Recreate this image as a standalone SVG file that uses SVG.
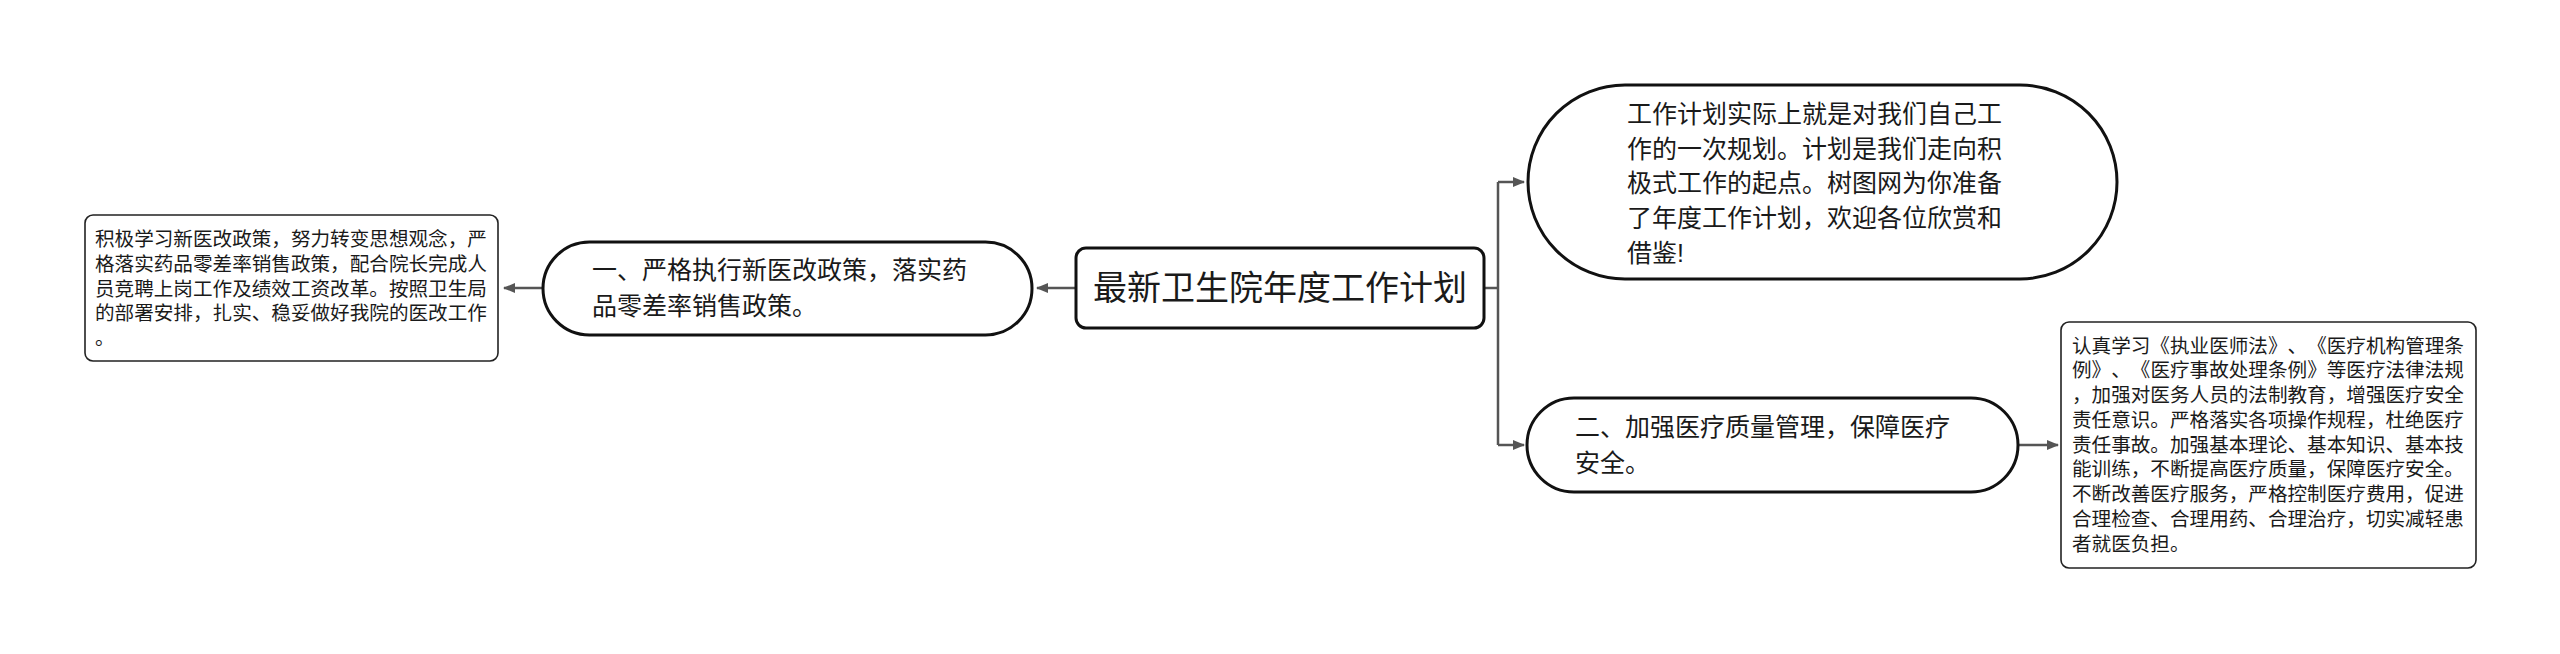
<svg xmlns="http://www.w3.org/2000/svg" width="2560" height="654" viewBox="0 0 2560 654">
<style>
text{font-family:"Liberation Sans","Noto Sans CJK SC",sans-serif;fill:#1a1a1a;text-spacing-trim:space-all}
.main{fill:#fff;stroke:#111;stroke-width:3}
.leaf{fill:#fff;stroke:#222;stroke-width:1.6}
.t25{font-size:25px}
.t20{font-size:19.6px}
.conn{fill:none;stroke:#555;stroke-width:2.5}
</style>
<defs>
<marker id="ah" markerWidth="12" markerHeight="10" refX="11" refY="5" orient="auto" markerUnits="userSpaceOnUse">
<path d="M0,0 L12,5 L0,10 Z" fill="#555"/>
</marker>
</defs>
<rect width="2560" height="654" fill="#fff"/>
<g id="connectors">
<path class="conn" d="M1076,288 L1037,288" marker-end="url(#ah)"/>
<path class="conn" d="M543,288 L504,288" marker-end="url(#ah)"/>
<path class="conn" d="M1484,288 L1498,288"/>
<path class="conn" d="M1498,182 L1498,445"/>
<path class="conn" d="M1498,182 L1524,182" marker-end="url(#ah)"/>
<path class="conn" d="M1498,445 L1524,445" marker-end="url(#ah)"/>
<path class="conn" d="M2018,445 L2058,445" marker-end="url(#ah)"/>
</g>
<g id="root">
<rect class="main" x="1076" y="248" width="408" height="80" rx="10"/>
<text x="1280" y="300" font-size="34" text-anchor="middle">最新卫生院年度工作计划</text>
</g>
<g id="node1">
<rect class="main" x="543" y="242" width="489" height="93" rx="46.5"/>
<text class="t25"><tspan x="592" y="279">一、严格执行新医改政策，落实药</tspan><tspan x="592" y="315">品零差率销售政策。</tspan></text>
</g>
<g id="leaf1">
<rect class="leaf" x="85" y="215" width="413" height="146" rx="8"/>
<text class="t20"><tspan x="95" y="246">积极学习新医改政策，努力转变思想观念，严</tspan><tspan x="95" y="270.7">格落实药品零差率销售政策，配合院长完成人</tspan><tspan x="95" y="295.5">员竞聘上岗工作及绩效工资改革。按照卫生局</tspan><tspan x="95" y="320.2">的部署安排，扎实、稳妥做好我院的医改工作</tspan><tspan x="95" y="345">。</tspan></text>
</g>
<g id="node-top">
<rect class="main" x="1528" y="85" width="589" height="194" rx="97"/>
<text class="t25"><tspan x="1627" y="123">工作计划实际上就是对我们自己工</tspan><tspan x="1627" y="157.7">作的一次规划。计划是我们走向积</tspan><tspan x="1627" y="192.4">极式工作的起点。树图网为你准备</tspan><tspan x="1627" y="227.1">了年度工作计划，欢迎各位欣赏和</tspan><tspan x="1627" y="261.8">借鉴!</tspan></text>
</g>
<g id="node2">
<rect class="main" x="1527" y="398" width="491" height="94" rx="47"/>
<text class="t25"><tspan x="1575" y="436">二、加强医疗质量管理，保障医疗</tspan><tspan x="1575" y="472">安全。</tspan></text>
</g>
<g id="leaf2">
<rect class="leaf" x="2061" y="322" width="415" height="246" rx="8"/>
<text class="t20"><tspan x="2072" y="352.5">认真学习《执业医师法》</tspan><tspan x="2287.6" y="352.5">、</tspan><tspan x="2307.2" y="352.5">《医疗机构管理条</tspan><tspan x="2072" y="377.2">例》</tspan><tspan x="2111.2" y="377.2">、</tspan><tspan x="2130.8" y="377.2">《医疗事故处理条例》等医疗法律法规</tspan><tspan x="2072" y="402">，加强对医务人员的法制教育，增强医疗安全</tspan><tspan x="2072" y="426.7">责任意识。严格落实各项操作规程，杜绝医疗</tspan><tspan x="2072" y="451.5">责任事故。加强基本理论、基本知识、基本技</tspan><tspan x="2072" y="476.2">能训练，不断提高医疗质量，保障医疗安全。</tspan><tspan x="2072" y="501">不断改善医疗服务，严格控制医疗费用，促进</tspan><tspan x="2072" y="525.7">合理检查、合理用药、合理治疗，切实减轻患</tspan><tspan x="2072" y="550.5">者就医负担。</tspan></text>
</g>
</svg>
